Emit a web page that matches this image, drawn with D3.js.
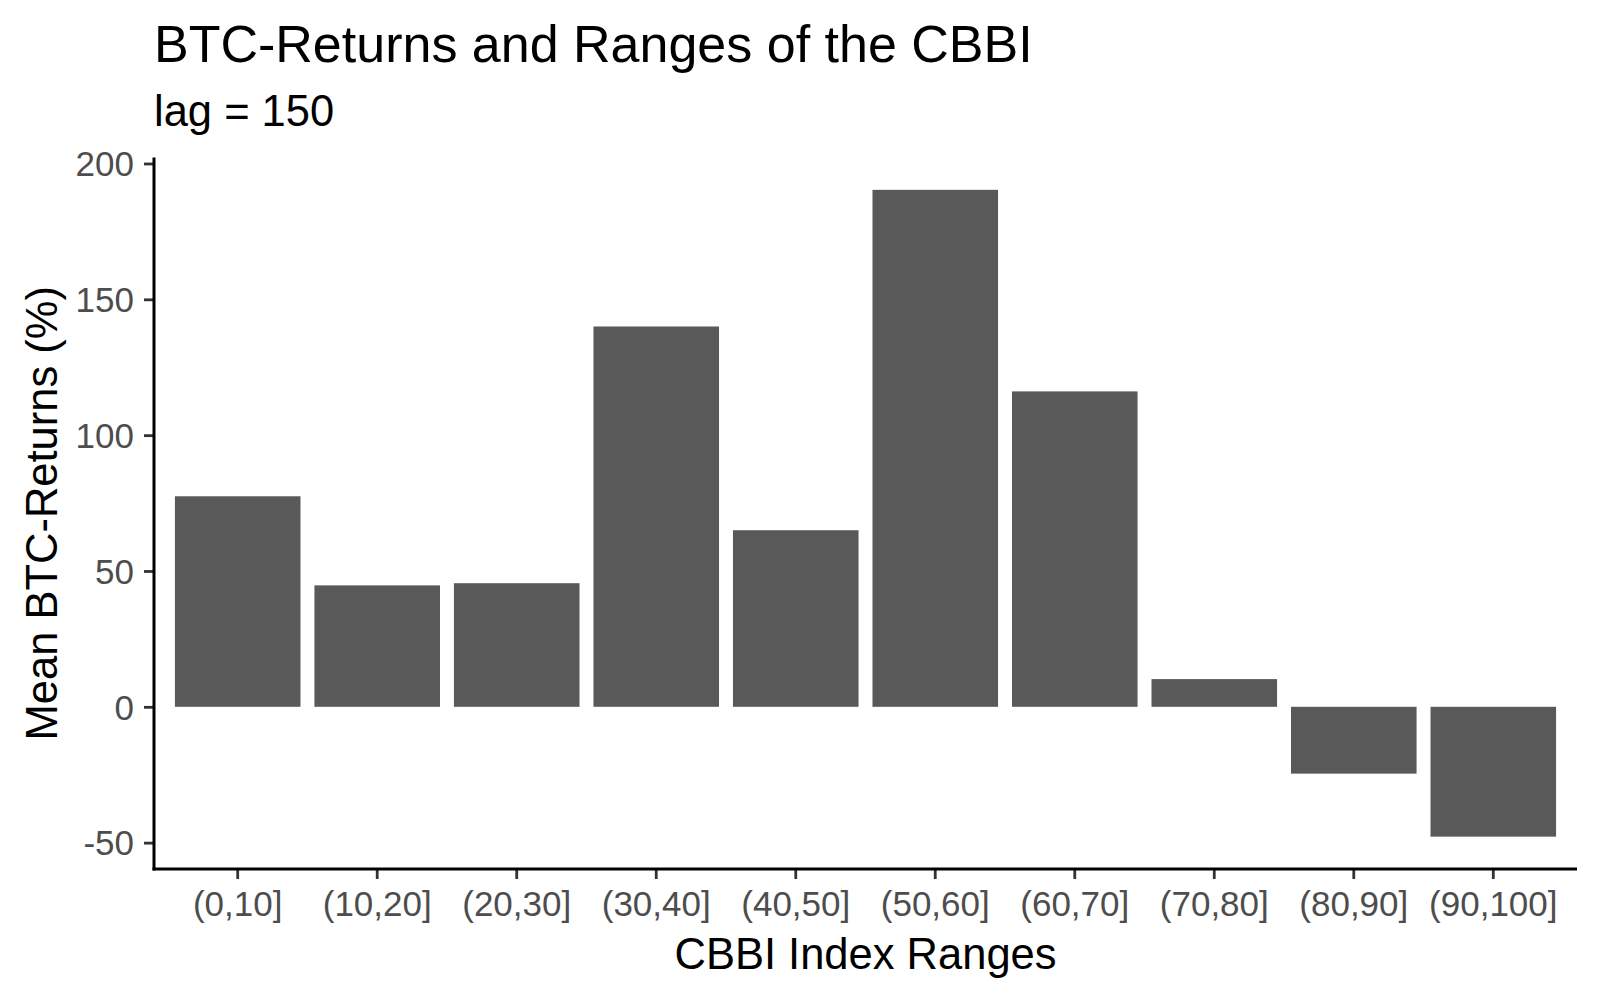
<!DOCTYPE html>
<html>
<head>
<meta charset="utf-8">
<script src="https://cdn.jsdelivr.net/npm/d3@7"></script>
<style>
  html, body { margin: 0; padding: 0; background: #fff; }
  svg { display: block; font-family: "Liberation Sans", Arial, sans-serif; }
</style>
</head>
<body>
<svg id="chart" width="1600" height="1000"></svg>
<script>
const categories = ["(0,10]", "(10,20]", "(20,30]", "(30,40]", "(40,50]", "(50,60]", "(60,70]", "(70,80]", "(80,90]", "(90,100]"];
const meanReturns = [77.5, 44.7, 45.5, 140.0, 65.0, 190.3, 116.1, 10.2, -24.6, -47.8];
const yTicks = [-50, 0, 50, 100, 150, 200];
const titleText = "BTC-Returns and Ranges of the CBBI";
const subtitleText = "lag = 150";
const xTitle = "CBBI Index Ranges";
const yTitle = "Mean BTC-Returns (%)";

const svg = d3.select("#chart");
const L = 154, R = 1577, T = 157.5, B = 869;

const minV = d3.min(meanReturns), maxV = d3.max(meanReturns);
const span = maxV - minV;
const y = d3.scaleLinear().domain([minV - 0.05 * span, maxV + 0.05 * span]).range([B, T]);
const x = d3.scaleBand().domain(categories).range([L, R]).paddingInner(0.1).paddingOuter(0.15);

// bars
svg.append("g").selectAll("rect").data(categories).join("rect")
  .attr("x", d => x(d))
  .attr("width", x.bandwidth())
  .attr("y", (d, i) => y(Math.max(0, meanReturns[i])))
  .attr("height", (d, i) => Math.abs(y(meanReturns[i]) - y(0)))
  .attr("fill", "#595959");

// y axis
const gy = svg.append("g").attr("transform", `translate(${L},0)`)
  .call(d3.axisLeft(y).tickValues(yTicks).tickSize(10).tickPadding(10).tickFormat(d => String(d)));
gy.select(".domain").remove();
gy.selectAll(".tick line").attr("stroke", "#333").attr("stroke-width", 2.8);
gy.selectAll(".tick text").attr("fill", "#4d4d4d").attr("font-size", 35)
  .attr("font-family", "'Liberation Sans', Arial, sans-serif").attr("dy", "0.35em");
svg.append("line").attr("x1", L).attr("x2", L).attr("y1", T).attr("y2", B + 1.5)
  .attr("stroke", "#000").attr("stroke-width", 3);

// x axis
const gx = svg.append("g").attr("transform", `translate(0,${B})`)
  .call(d3.axisBottom(x).tickSize(10).tickPadding(12));
gx.select(".domain").remove();
gx.selectAll(".tick line").attr("stroke", "#333").attr("stroke-width", 2.8);
gx.selectAll(".tick text").attr("fill", "#4d4d4d").attr("font-size", 35)
  .attr("font-family", "'Liberation Sans', Arial, sans-serif").attr("dy", "0.71em");
svg.append("line").attr("x1", L - 1.5).attr("x2", R).attr("y1", B).attr("y2", B)
  .attr("stroke", "#000").attr("stroke-width", 3);

// titles
svg.append("text").attr("x", 154).attr("y", 62).attr("font-size", 52).attr("fill", "#000").text(titleText);
svg.append("text").attr("x", 154).attr("y", 126).attr("font-size", 43.5).attr("fill", "#000").text(subtitleText);
svg.append("text").attr("x", (L + R) / 2).attr("y", 969).attr("text-anchor", "middle")
  .attr("font-size", 43.5).attr("fill", "#000").text(xTitle);
svg.append("text").attr("transform", `translate(57,${(T + B) / 2}) rotate(-90)`)
  .attr("text-anchor", "middle").attr("font-size", 43.5).attr("fill", "#000").text(yTitle);
</script>
</body>
</html>
